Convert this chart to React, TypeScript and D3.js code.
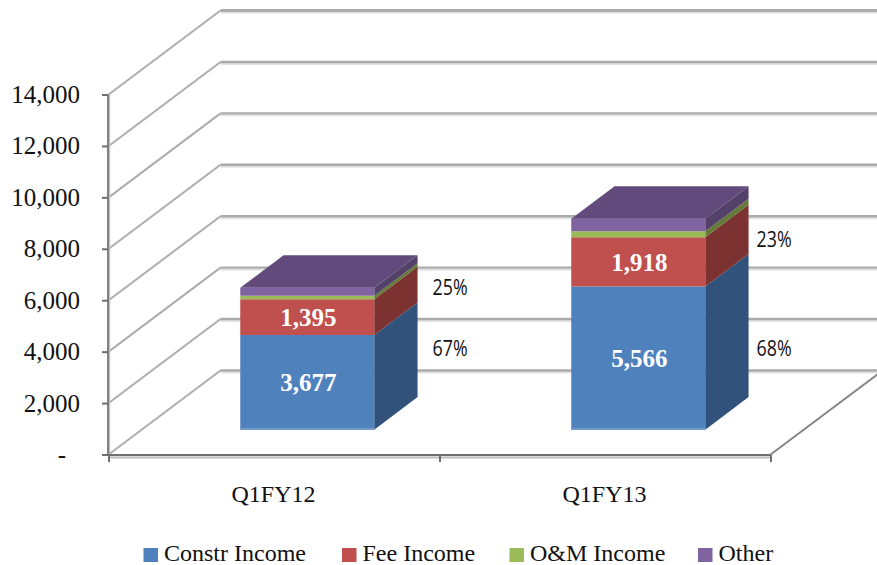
import React from 'react';
import { scaleLinear, scaleBand, line } from 'd3';

const width = 877;
const height = 565;

const quarters = ['Q1FY12', 'Q1FY13'];
const seriesNames = ['Constr Income', 'Fee Income', 'O&M Income', 'Other'];
const constrIncome = [3677, 5566];
const feeIncome = [1395, 1918];
const omIncome = [136, 233];
const otherIncome = [310, 480];
const feeShare = ['25%', '23%'];
const constrShare = ['67%', '68%'];
const yTicks = [0, 2000, 4000, 6000, 8000, 10000, 12000, 14000];
const yTickLabels = ['-', '2,000', '4,000', '6,000', '8,000', '10,000', '12,000', '14,000'];

const seriesValues = [constrIncome, feeIncome, omIncome, otherIncome];
const frontColors = ['#4f81bd', '#c0504d', '#9bbb59', '#8064a2'];
const sideColors = ['#31527a', '#7b3230', '#647a39', '#534169'];
const topColor = '#624b7c';
const legendX = [143.5, 342, 509.5, 698];

const serif = '"Liberation Serif", serif';
const sans = '"Open Sans", sans-serif';

const yScale = scaleLinear().domain([0, 14000]).range([455, 95]);
const xScale = scaleBand().domain(quarters).range([108, 770]);
// depth axis of the 3d box: 0 = front of the floor, 1 = back wall
const depthX = scaleLinear().domain([0, 1]).range([0, 112.5]);
const depthY = scaleLinear().domain([0, 1]).range([0, -84.5]);

const barWidth = 134;
const barFront = 0.3;
const barBack = 0.685;

type Pt = [number, number];
const project = (x: number, v: number, d: number): Pt => [x + depthX(d), yScale(v) + depthY(d)];
const path = line<Pt>();
const poly = (pts: Pt[]) => path(pts) + 'Z';

const App = () => {
  const x0 = 108;
  const x1 = 770;

  return (
    <svg width={width} height={height} style={{ position: 'absolute', left: 0, top: 0, background: '#fff' }}>
      {/* back wall grid lines, each with a soft shadow */}
      {yTicks.map(t => {
        const a = project(x0, t, 1);
        const c = project(x0, t, 0);
        return (
          <g key={t}>
            <line x1={a[0]} x2={width} y1={a[1] + 2} y2={a[1] + 2} stroke="#e2e2e2" strokeWidth={2} />
            <line x1={a[0]} x2={width} y1={a[1]} y2={a[1]} stroke="#ababab" strokeWidth={t === 14000 ? 3 : 2.4} />
            <line x1={c[0]} y1={c[1]} x2={a[0]} y2={a[1]} stroke="#adadad" strokeWidth={2} />
          </g>
        );
      })}

      {/* floor edge on the right */}
      <line x1={x1} y1={yScale(0)} x2={x1 + depthX(1)} y2={yScale(0) + depthY(1)} stroke="#868686" strokeWidth={2} />

      {/* axes */}
      <line x1={x0 + 1.5} x2={x0 + 1.5} y1={yScale(14000)} y2={yScale(0)} stroke="#c4c4c4" strokeWidth={1.5} />
      <line x1={x0} x2={x0} y1={yScale(14000)} y2={yScale(0)} stroke="#808080" strokeWidth={2} />
      <line x1={x0} x2={x1} y1={yScale(0) + 2.5} y2={yScale(0) + 2.5} stroke="#bdbdbd" strokeWidth={2} />
      <line x1={x0 - 6} x2={x1} y1={yScale(0)} y2={yScale(0)} stroke="#6f6f6f" strokeWidth={2} />
      {yTicks.map(t => (
        <line key={t} x1={x0 - 6} x2={x0} y1={yScale(t)} y2={yScale(t)} stroke="#6f6f6f" strokeWidth={2} />
      ))}
      {[x0, x0 + xScale.bandwidth(), x1].map(x => (
        <line key={x} x1={x + 1} x2={x + 1} y1={yScale(0)} y2={yScale(0) + 7} stroke="#6f6f6f" strokeWidth={2} />
      ))}
      {yTicks.map((t, i) => (
        <text key={t} x={t === 0 ? 66 : 80} y={yScale(t) + 8} textAnchor="end" fontFamily={serif} fontSize={25} fill="#111">
          {yTickLabels[i]}
        </text>
      ))}
      {quarters.map(q => (
        <text key={q} x={xScale(q)! + xScale.bandwidth() / 2} y={502} textAnchor="middle" fontFamily={serif} fontSize={24} fill="#111">
          {q}
        </text>
      ))}

      {/* stacked boxes */}
      {quarters.map((q, i) => {
        const left = xScale(q)! + (xScale.bandwidth() - barWidth) / 2;
        const right = left + barWidth;
        const total = seriesValues.reduce((s, v) => s + v[i], 0);
        let base = 0;
        return (
          <g key={q}>
            {seriesValues.map((vals, s) => {
              const lo = base;
              const hi = base + vals[i];
              base = hi;
              const mid = project(left, (lo + hi) / 2, barFront);
              return (
                <g key={s}>
                  <path
                    d={poly([project(right, lo, barFront), project(right, lo, barBack), project(right, hi, barBack), project(right, hi, barFront)])}
                    fill={sideColors[s]}
                  />
                  <path
                    d={poly([project(left, lo, barFront), project(right, lo, barFront), project(right, hi, barFront), project(left, hi, barFront)])}
                    fill={frontColors[s]}
                  />
                  {s < 2 && (
                    <text x={mid[0] + barWidth / 2 + 1} y={mid[1] + 9} textAnchor="middle" fontFamily={serif} fontWeight="bold" fontSize={25} fill="#fff">
                      {vals[i].toLocaleString('en-US')}
                    </text>
                  )}
                </g>
              );
            })}
            <path
              d={poly([project(left, total, barFront), project(right, total, barFront), project(right, total, barBack), project(left, total, barBack)])}
              fill={topColor}
            />
            <line
              x1={project(left, 0, barFront)[0]}
              x2={project(right, 0, barFront)[0]}
              y1={project(left, 0, barFront)[1] - 1}
              y2={project(left, 0, barFront)[1] - 1}
              stroke="#6f98cb"
              strokeWidth={2}
            />
          </g>
        );
      })}

      {/* percent labels next to the boxes, squeezed to the condensed look of the original */}
      {quarters.map((q, i) => {
        const right = xScale(q)! + (xScale.bandwidth() + barWidth) / 2;
        const labelX = project(right, 0, barBack)[0] + (i === 0 ? 15 : 8);
        return (
          <g key={q} fontFamily={sans} fontSize={21} fill="#111">
            <text x={labelX} y={i === 0 ? 295 : 247} textLength={35} lengthAdjust="spacingAndGlyphs">{feeShare[i]}</text>
            <text x={labelX} y={356} textLength={35} lengthAdjust="spacingAndGlyphs">{constrShare[i]}</text>
          </g>
        );
      })}

      {/* legend */}
      {seriesNames.map((name, i) => (
        <g key={name}>
          <rect x={legendX[i]} y={548} width={14.5} height={14} fill={frontColors[i]} />
          <text x={legendX[i] + 20.5} y={561} fontFamily={serif} fontSize={24} fill="#111">{name}</text>
        </g>
      ))}
    </svg>
  );
};

export default App;
